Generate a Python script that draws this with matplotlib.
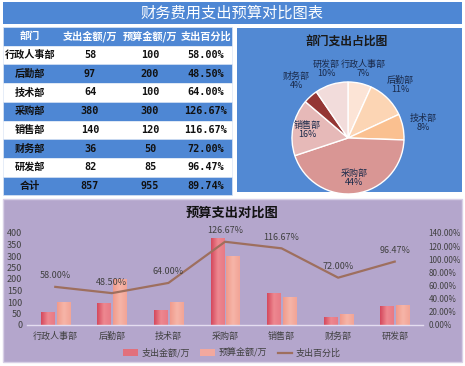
import matplotlib
matplotlib.use("Agg")
import matplotlib.pyplot as plt
from matplotlib.patches import Rectangle
from matplotlib.colors import LinearSegmentedColormap
import numpy as np

plt.rcParams['font.family'] = ['Noto Sans CJK SC', 'DejaVu Sans']

# ---------------- data ----------------
title = "财务费用支出预算对比图表"
departments = ["行政人事部", "后勤部", "技术部", "采购部", "销售部", "财务部", "研发部"]
spend = [58, 97, 64, 380, 140, 36, 82]
budget = [100, 200, 100, 300, 120, 50, 85]
pie_pct_labels = [7, 11, 8, 44, 16, 4, 10]
header = ["部门", "支出金额/万", "预算金额/万", "支出百分比"]
total_label = "合计"
pie_title = "部门支出占比图"
bar_title = "预算支出对比图"
series_names = ["支出金额/万", "预算金额/万", "支出百分比"]
left_ticks = [0, 50, 100, 150, 200, 250, 300, 350, 400]
right_ticks = [0.0, 0.2, 0.4, 0.6, 0.8, 1.0, 1.2, 1.4]

pct = [s / b for s, b in zip(spend, budget)]
tot_s = sum(spend)
tot_b = sum(budget)

W, H = 465, 366
fig = plt.figure(figsize=(W / 100, H / 100), dpi=100)
fig.patch.set_facecolor('white')

def ax_px(x, y, w, h, **kw):
    return fig.add_axes([x / W, 1 - (y + h) / H, w / W, h / H], **kw)

BLUE = '#4E87D4'
LAV = '#B4A6CC'

bg = ax_px(0, 0, W, H)
bg.set_xlim(0, W); bg.set_ylim(H, 0); bg.axis('off')
bg.add_patch(Rectangle((3, 2), 459, 22, color=BLUE, lw=0))
bg.text(232, 13.5, title, color='white', fontsize=11, ha='center', va='center')
bg.add_patch(Rectangle((237, 28), 225, 164, color='#5289D3', lw=0))
bg.text(347, 42, pie_title, color='#1a1a1a', fontsize=8.5, fontweight='bold', ha='center', va='center')
bg.add_patch(Rectangle((3, 199), 459, 163, facecolor=LAV, edgecolor='#D8D0E6', lw=1))
bg.text(232, 213, bar_title, color='#111111', fontsize=9.5, fontweight='bold', ha='center', va='center')

# ---------------- table ----------------
col_edges = [3, 60, 120, 180, 232]
row_top = 27
row_h = 18.7
rows = [header]
for d, s, b, p in zip(departments, spend, budget, pct):
    rows.append([d, str(s), str(b), f"{p*100:.2f}%"])
rows.append([total_label, str(tot_s), str(tot_b), f"{tot_s/tot_b*100:.2f}%"])
for i, r in enumerate(rows):
    y0 = row_top + i * row_h
    fc = BLUE if i % 2 == 0 else 'white'
    bg.add_patch(Rectangle((col_edges[0], y0), col_edges[-1] - col_edges[0], row_h,
                           facecolor=fc, edgecolor='#DCE6F5', lw=0.5))
    tc = 'white' if i == 0 else '#111111'
    for j, txt in enumerate(r):
        cx = (col_edges[j] + col_edges[j + 1]) / 2
        if j == 0:
            cx = 30
        fam = ['Noto Sans CJK SC', 'DejaVu Sans'] if (i == 0 or j == 0) else ['DejaVu Sans Mono', 'DejaVu Sans']
        bg.text(cx, y0 + row_h / 2, txt, color=tc, fontsize=7.3, fontweight='bold',
                ha='center', va='center', family=fam)

# ---------------- pie ----------------
pie_colors = ['#FCE4D6', '#FCD5B4', '#FAC090', '#D99694', '#E6B9B8', '#943634', '#F2DCDB']
label_dist = [1.27, 1.33, 1.37, 0.72, 0.74, 1.38, 1.29]
R = 56
pax = ax_px(348 - R, 138 - R, 2 * R, 2 * R)
pax.set_facecolor('none')
wedges, _ = pax.pie(spend, colors=pie_colors, startangle=90, counterclock=False,
                    wedgeprops=dict(edgecolor='white', linewidth=1))
pax.set_xlim(-1, 1); pax.set_ylim(-1, 1)
pax.set_aspect('equal'); pax.axis('off')
for w, name, pl, ld in zip(wedges, departments, pie_pct_labels, label_dist):
    ang = np.deg2rad((w.theta1 + w.theta2) / 2)
    x, y = ld * np.cos(ang), ld * np.sin(ang)
    pax.text(x, y, f"{name}\n{pl}%", ha='center', va='center',
             fontsize=6.5, color='#1a2a4a', linespacing=1.0, clip_on=False)

# ---------------- bar + line ----------------
ax = ax_px(27, 233, 396, 92)
ax.set_facecolor('none')
x = np.arange(len(departments))
bw = 0.23
b1 = ax.bar(x - bw / 2 - 0.025, spend, bw, color='#E2707C', label=series_names[0], zorder=2)
b2 = ax.bar(x + bw / 2 + 0.025, budget, bw, color='#F2A89E', label=series_names[1], zorder=2)
ax.set_xlim(-0.5, len(departments) - 0.5)
ax.set_ylim(0, 400)

cm1 = LinearSegmentedColormap.from_list('g1', ['#D4485C', '#EE8890', '#E87A85'])
cm2 = LinearSegmentedColormap.from_list('g2', ['#F09A8C', '#F6B5A8', '#F2A496'])
grad = np.linspace(0, 1, 64).reshape(1, -1)
for bars, cm in ((b1, cm1), (b2, cm2)):
    for p in bars:
        bx, by = p.get_x(), p.get_y()
        im = ax.imshow(grad, cmap=cm, aspect='auto', zorder=2.1,
                       extent=(bx, bx + p.get_width(), by, by + p.get_height()))
        im.set_clip_path(p)
ax.set_xlim(-0.5, len(departments) - 0.5)
ax.set_ylim(0, 400)
ax.set_yticks(left_ticks)
ax.set_xticks(x)
ax.set_xticklabels(departments)
ax.tick_params(axis='both', length=0, labelsize=6.5, colors='#404040')
ax.tick_params(axis='x', pad=5)
for s in ['top', 'right', 'left']:
    ax.spines[s].set_visible(False)
ax.spines['bottom'].set_color('#E4DDF0')
ax.spines['bottom'].set_linewidth(1)

ax2 = ax.twinx()
ln, = ax2.plot(x, pct, color='#9E6F5E', lw=1.6, label=series_names[2], zorder=3)
ax2.set_ylim(0, 1.4)
ax2.set_yticks(right_ticks)
ax2.set_yticklabels([f"{t*100:.2f}%" for t in right_ticks])
ax2.tick_params(axis='y', length=0, labelsize=5.8, colors='#404040', pad=4)
for s in ax2.spines.values():
    s.set_visible(False)
for xi, p in zip(x, pct):
    ax2.annotate(f"{p*100:.2f}%", (xi, p), xytext=(0, 8), textcoords='offset points',
                 ha='center', va='center', fontsize=6.5, color='#404040')

fig.legend(handles=[b1, b2, ln], labels=series_names, loc='center',
           bbox_to_anchor=(232 / W, 1 - 353 / H), ncol=3, frameon=False,
           fontsize=6.5, labelcolor='#404040', handlelength=1.6, handleheight=0.7,
           columnspacing=1.2, handletextpad=0.4)

fig.savefig('out.png', dpi=100, facecolor='white')
